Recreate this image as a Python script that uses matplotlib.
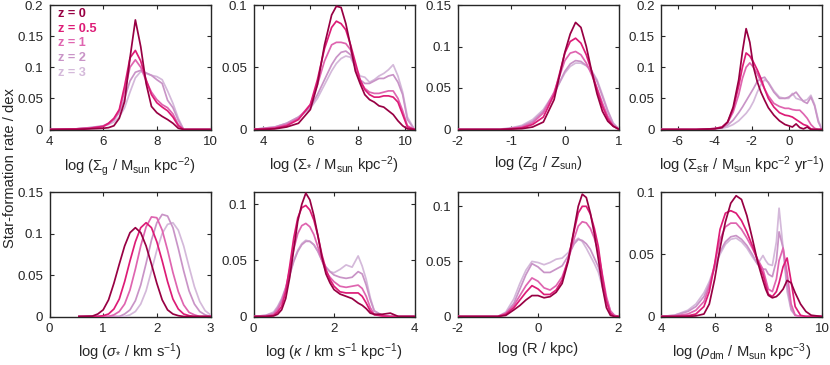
"""Star-formation rate per dex vs local properties at z = 0 ... 3 (8 small multiples)."""

import matplotlib
matplotlib.use("Agg")
import matplotlib.pyplot as plt
from matplotlib.ticker import FuncFormatter

plt.rcParams["font.family"] = ["Liberation Sans", "DejaVu Sans"]
plt.rcParams["mathtext.fontset"] = "custom"
plt.rcParams["mathtext.rm"] = "Liberation Sans"
plt.rcParams["mathtext.it"] = "Liberation Sans:italic"
plt.rcParams["mathtext.bf"] = "Liberation Sans:bold"

# ---- data ----
redshifts = ["z = 0", "z = 0.5", "z = 1", "z = 2", "z = 3"]
colors = ["#980043", "#dd1c77", "#df65b0", "#c994c7", "#d4b9da"]

# log Sigma_gas
sg_x = [4.0, 5.0, 5.5, 6.0, 6.2, 6.4, 6.6, 6.8, 7.0, 7.2, 7.4, 7.6, 7.8, 8.0, 8.2, 8.4, 8.6, 8.8, 9.0, 10.0]
sg_y = [
    [0, 0, 0.001, 0.002, 0.003, 0.006, 0.018, 0.045, 0.115, 0.176, 0.133, 0.074, 0.037, 0.027, 0.021, 0.016, 0.010, 0.002, 0, 0],
    [0, 0.001, 0.002, 0.005, 0.010, 0.018, 0.032, 0.070, 0.115, 0.127, 0.110, 0.080, 0.056, 0.043, 0.036, 0.030, 0.020, 0.006, 0, 0],
    [0, 0.001, 0.002, 0.005, 0.009, 0.016, 0.030, 0.062, 0.100, 0.112, 0.100, 0.078, 0.060, 0.048, 0.040, 0.035, 0.025, 0.008, 0, 0],
    [0, 0.001, 0.003, 0.006, 0.010, 0.016, 0.027, 0.050, 0.078, 0.092, 0.095, 0.091, 0.087, 0.080, 0.074, 0.047, 0.035, 0.015, 0, 0],
    [0, 0.001, 0.003, 0.005, 0.008, 0.012, 0.020, 0.035, 0.060, 0.083, 0.093, 0.090, 0.087, 0.085, 0.080, 0.062, 0.042, 0.018, 0, 0],
]

# log Sigma_star
ss_x = [3.6, 4.0, 4.5, 5.0, 5.5, 6.0, 6.3, 6.6, 6.9, 7.1, 7.3, 7.5, 7.7, 7.9, 8.1, 8.3, 8.5, 8.7, 8.9, 9.1, 9.3, 9.5, 9.7, 9.9, 10.1, 10.4]
ss_y = [
    [0, 0, 0.0005, 0.002, 0.005, 0.016, 0.036, 0.068, 0.092, 0.099, 0.098, 0.085, 0.067, 0.047, 0.037, 0.028, 0.024, 0.022, 0.019, 0.018, 0.015, 0.012, 0.007, 0.003, 0.0005, 0],
    [0, 0.0005, 0.001, 0.003, 0.008, 0.020, 0.040, 0.065, 0.082, 0.087, 0.085, 0.080, 0.068, 0.054, 0.040, 0.032, 0.028, 0.026, 0.026, 0.027, 0.027, 0.026, 0.022, 0.012, 0.002, 0],
    [0, 0.0005, 0.0015, 0.004, 0.009, 0.020, 0.036, 0.055, 0.068, 0.070, 0.070, 0.069, 0.064, 0.050, 0.039, 0.033, 0.030, 0.029, 0.029, 0.030, 0.031, 0.031, 0.025, 0.015, 0.003, 0],
    [0, 0.001, 0.002, 0.005, 0.010, 0.018, 0.028, 0.040, 0.052, 0.058, 0.062, 0.063, 0.060, 0.050, 0.040, 0.037, 0.037, 0.039, 0.041, 0.041, 0.043, 0.044, 0.038, 0.028, 0.008, 0],
    [0, 0.001, 0.002, 0.005, 0.010, 0.017, 0.025, 0.036, 0.047, 0.053, 0.057, 0.059, 0.058, 0.050, 0.043, 0.042, 0.038, 0.040, 0.043, 0.045, 0.048, 0.052, 0.043, 0.030, 0.010, 0],
]

# log Z_gas
zg_x = [-2.0, -1.2, -1.0, -0.8, -0.6, -0.4, -0.2, 0.0, 0.1, 0.2, 0.3, 0.4, 0.5, 0.6, 0.7, 0.8, 0.9, 1.0]
zg_y = [
    [0, 0, 0.0005, 0.001, 0.003, 0.009, 0.036, 0.093, 0.115, 0.129, 0.123, 0.100, 0.070, 0.043, 0.022, 0.010, 0.004, 0.0005],
    [0, 0, 0.001, 0.002, 0.006, 0.015, 0.042, 0.092, 0.106, 0.110, 0.104, 0.090, 0.070, 0.048, 0.028, 0.013, 0.004, 0.0005],
    [0, 0, 0.001, 0.003, 0.008, 0.020, 0.045, 0.083, 0.092, 0.094, 0.090, 0.080, 0.066, 0.050, 0.032, 0.016, 0.005, 0.001],
    [0, 0, 0.0015, 0.004, 0.010, 0.022, 0.043, 0.070, 0.079, 0.083, 0.082, 0.077, 0.070, 0.058, 0.040, 0.022, 0.007, 0.001],
    [0, 0.0005, 0.002, 0.005, 0.012, 0.024, 0.044, 0.068, 0.076, 0.080, 0.080, 0.077, 0.071, 0.060, 0.042, 0.023, 0.008, 0.001],
]

# log Sigma_sfr
sf_x = [-7.0, -5.0, -4.5, -4.0, -3.6, -3.3, -3.0, -2.7, -2.5, -2.3, -2.1, -1.9, -1.7, -1.5, -1.3, -1.1, -0.8, -0.5, -0.2, 0.0, 0.2, 0.4, 0.6, 0.8, 1.0, 1.2, 1.4, 1.6, 1.8]
sf_y = [
    [0, 0, 0.0005, 0.001, 0.003, 0.012, 0.036, 0.080, 0.125, 0.162, 0.140, 0.100, 0.077, 0.060, 0.047, 0.035, 0.023, 0.014, 0.008, 0.006, 0.004, 0.009, 0.003, 0.001, 0.004, 0, 0, 0, 0],
    [0, 0, 0.0005, 0.0015, 0.004, 0.012, 0.033, 0.070, 0.100, 0.123, 0.118, 0.108, 0.096, 0.082, 0.065, 0.050, 0.036, 0.027, 0.023, 0.022, 0.020, 0.016, 0.012, 0.008, 0.006, 0.001, 0, 0, 0],
    [0, 0, 0.0005, 0.0015, 0.004, 0.011, 0.028, 0.056, 0.082, 0.100, 0.107, 0.100, 0.090, 0.077, 0.065, 0.054, 0.042, 0.037, 0.034, 0.034, 0.032, 0.031, 0.031, 0.025, 0.018, 0.008, 0.002, 0, 0],
    [0, 0, 0.0005, 0.0015, 0.003, 0.007, 0.015, 0.027, 0.036, 0.046, 0.056, 0.066, 0.077, 0.082, 0.084, 0.075, 0.060, 0.050, 0.050, 0.052, 0.056, 0.060, 0.052, 0.045, 0.042, 0.052, 0.038, 0.012, 0],
    [0, 0, 0.0005, 0.001, 0.002, 0.004, 0.008, 0.014, 0.020, 0.026, 0.034, 0.045, 0.060, 0.072, 0.080, 0.076, 0.062, 0.052, 0.050, 0.050, 0.058, 0.050, 0.048, 0.046, 0.048, 0.055, 0.040, 0.015, 0],
]

# log sigma_star (velocity dispersion)
vd_x = [0.55, 0.8, 0.9, 1.0, 1.1, 1.2, 1.3, 1.4, 1.5, 1.6, 1.7, 1.8, 1.9, 2.0, 2.1, 2.2, 2.3, 2.4, 2.5, 2.6, 2.7, 2.8, 2.9, 3.0]
vd_y = [
    [0, 0.0005, 0.003, 0.008, 0.020, 0.040, 0.063, 0.085, 0.101, 0.107, 0.101, 0.085, 0.063, 0.040, 0.020, 0.008, 0.003, 0.001, 0, 0, 0, 0, 0, 0],
    [0, 0, 0, 0.001, 0.003, 0.009, 0.021, 0.042, 0.067, 0.090, 0.107, 0.113, 0.107, 0.090, 0.067, 0.042, 0.021, 0.009, 0.003, 0.001, 0, 0, 0, 0],
    [0, 0, 0, 0, 0, 0.002, 0.006, 0.015, 0.032, 0.057, 0.085, 0.108, 0.120, 0.119, 0.104, 0.080, 0.053, 0.030, 0.014, 0.005, 0.002, 0, 0, 0],
    [0, 0, 0, 0, 0, 0, 0, 0.003, 0.008, 0.019, 0.038, 0.064, 0.092, 0.113, 0.123, 0.121, 0.107, 0.082, 0.055, 0.031, 0.015, 0.006, 0.002, 0],
    [0, 0, 0, 0, 0, 0, 0, 0, 0.002, 0.006, 0.015, 0.031, 0.055, 0.080, 0.100, 0.111, 0.113, 0.104, 0.085, 0.060, 0.036, 0.018, 0.007, 0.002],
]

# log kappa
kp_x = [0.0, 0.3, 0.5, 0.6, 0.7, 0.8, 0.9, 1.0, 1.1, 1.2, 1.3, 1.4, 1.5, 1.6, 1.7, 1.8, 1.9, 2.0, 2.15, 2.3, 2.45, 2.6, 2.7, 2.8, 2.9, 3.0, 3.2, 3.4, 3.6, 4.0]
kp_y = [
    [0, 0, 0.0005, 0.002, 0.006, 0.016, 0.035, 0.060, 0.085, 0.100, 0.110, 0.104, 0.090, 0.072, 0.053, 0.038, 0.030, 0.024, 0.020, 0.018, 0.016, 0.012, 0.010, 0.007, 0.003, 0.002, 0.002, 0.003, 0, 0],
    [0, 0, 0.001, 0.004, 0.009, 0.022, 0.045, 0.070, 0.088, 0.097, 0.099, 0.095, 0.086, 0.072, 0.055, 0.042, 0.033, 0.027, 0.022, 0.021, 0.021, 0.021, 0.018, 0.012, 0.005, 0.0015, 0.0005, 0, 0, 0],
    [0, 0.0005, 0.002, 0.006, 0.013, 0.025, 0.042, 0.060, 0.074, 0.081, 0.083, 0.080, 0.073, 0.062, 0.050, 0.040, 0.035, 0.031, 0.027, 0.026, 0.027, 0.028, 0.025, 0.018, 0.008, 0.002, 0.0005, 0, 0, 0],
    [0, 0.001, 0.003, 0.008, 0.015, 0.025, 0.037, 0.049, 0.058, 0.064, 0.067, 0.067, 0.064, 0.058, 0.050, 0.044, 0.040, 0.037, 0.035, 0.034, 0.035, 0.040, 0.038, 0.028, 0.015, 0.005, 0.001, 0, 0, 0],
    [0, 0.001, 0.004, 0.009, 0.016, 0.026, 0.038, 0.050, 0.059, 0.065, 0.068, 0.067, 0.064, 0.058, 0.050, 0.044, 0.040, 0.039, 0.042, 0.046, 0.044, 0.054, 0.045, 0.033, 0.017, 0.005, 0.001, 0, 0, 0],
]

# log R
rr_x = [-2.0, -1.0, -0.8, -0.6, -0.45, -0.3, -0.15, 0.0, 0.15, 0.3, 0.45, 0.6, 0.75, 0.9, 1.0, 1.1, 1.2, 1.3, 1.4, 1.5, 1.6, 1.7, 1.8, 1.9, 2.0]
rr_y = [
    [0, 0, 0.001, 0.006, 0.010, 0.015, 0.019, 0.019, 0.017, 0.018, 0.022, 0.030, 0.050, 0.080, 0.100, 0.111, 0.108, 0.094, 0.075, 0.052, 0.027, 0.008, 0.001, 0, 0],
    [0, 0, 0.002, 0.008, 0.015, 0.022, 0.028, 0.025, 0.020, 0.020, 0.024, 0.033, 0.052, 0.078, 0.094, 0.100, 0.100, 0.093, 0.080, 0.063, 0.036, 0.014, 0.003, 0, 0],
    [0, 0, 0.003, 0.010, 0.019, 0.028, 0.035, 0.032, 0.026, 0.024, 0.028, 0.036, 0.051, 0.071, 0.082, 0.086, 0.085, 0.080, 0.071, 0.058, 0.038, 0.018, 0.005, 0.001, 0],
    [0, 0, 0.003, 0.012, 0.025, 0.038, 0.048, 0.045, 0.040, 0.040, 0.043, 0.046, 0.055, 0.066, 0.070, 0.069, 0.066, 0.061, 0.053, 0.045, 0.031, 0.016, 0.005, 0.001, 0],
    [0, 0, 0.004, 0.016, 0.030, 0.042, 0.050, 0.049, 0.047, 0.049, 0.052, 0.053, 0.058, 0.068, 0.071, 0.068, 0.062, 0.055, 0.048, 0.040, 0.027, 0.012, 0.004, 0, 0],
]

# log rho_dm
dm_x = [4.0, 4.5, 5.0, 5.3, 5.6, 5.8, 6.0, 6.2, 6.4, 6.6, 6.8, 7.0, 7.2, 7.4, 7.6, 7.8, 7.9, 8.0, 8.15, 8.3, 8.4, 8.55, 8.7, 8.85, 9.0, 9.2, 9.4, 9.6, 10.0]
dm_y = [
    [0, 0, 0, 0.0005, 0.002, 0.010, 0.030, 0.055, 0.076, 0.091, 0.097, 0.094, 0.081, 0.063, 0.044, 0.029, 0.022, 0.017, 0.015, 0.016, 0.018, 0.022, 0.029, 0.027, 0.019, 0.010, 0.004, 0.001, 0],
    [0, 0, 0.0005, 0.002, 0.008, 0.020, 0.042, 0.070, 0.083, 0.085, 0.083, 0.077, 0.068, 0.057, 0.045, 0.034, 0.026, 0.018, 0.016, 0.020, 0.027, 0.040, 0.047, 0.028, 0.008, 0.001, 0, 0, 0],
    [0, 0.0005, 0.002, 0.005, 0.012, 0.024, 0.042, 0.062, 0.072, 0.075, 0.075, 0.070, 0.063, 0.055, 0.046, 0.038, 0.030, 0.022, 0.020, 0.030, 0.045, 0.055, 0.035, 0.010, 0.001, 0, 0, 0, 0],
    [0, 0.001, 0.004, 0.008, 0.016, 0.026, 0.039, 0.052, 0.060, 0.064, 0.065, 0.062, 0.057, 0.050, 0.042, 0.038, 0.038, 0.034, 0.032, 0.045, 0.068, 0.055, 0.025, 0.006, 0.001, 0, 0, 0, 0],
    [0, 0.001, 0.005, 0.010, 0.019, 0.028, 0.040, 0.050, 0.058, 0.062, 0.063, 0.060, 0.055, 0.048, 0.042, 0.049, 0.045, 0.042, 0.041, 0.060, 0.087, 0.055, 0.020, 0.005, 0.001, 0, 0, 0, 0],
]

panels = [
    (sg_x, sg_y, (4, 10), [4, 6, 8, 10], (0, 0.2), [0, 0.05, 0.1, 0.15, 0.2],
     r"log ($\Sigma_{\rm g}$ / M$_{\rm sun}$ kpc$^{-2}$)"),
    (ss_x, ss_y, (3.6, 10.4), [4, 6, 8, 10], (0, 0.1), [0, 0.05, 0.1],
     r"log ($\Sigma_{*}$ / M$_{\rm sun}$ kpc$^{-2}$)"),
    (zg_x, zg_y, (-2, 1), [-2, -1, 0, 1], (0, 0.15), [0, 0.05, 0.1, 0.15],
     r"log (Z$_{\rm g}$ / Z$_{\rm sun}$)"),
    (sf_x, sf_y, (-6.9, 1.8), [-6, -4, -2, 0], (0, 0.2), [0, 0.05, 0.1, 0.15, 0.2],
     r"log ($\Sigma_{\rm sfr}$ / M$_{\rm sun}$ kpc$^{-2}$ yr$^{-1}$)"),
    (vd_x, vd_y, (0, 3), [0, 1, 2, 3], (0, 0.15), [0, 0.05, 0.1, 0.15],
     r"log ($\sigma_{*}$ / km s$^{-1}$)"),
    (kp_x, kp_y, (0, 4), [0, 2, 4], (0, 0.111), [0, 0.05, 0.1],
     r"log ($\kappa$ / km s$^{-1}$ kpc$^{-1}$)"),
    (rr_x, rr_y, (-2, 2), [-2, 0, 2], (0, 0.113), [0, 0.05, 0.1],
     r"log (R / kpc)"),
    (dm_x, dm_y, (4, 10), [4, 6, 8, 10], (0, 0.1), [0, 0.05, 0.1],
     r"log ($\rho_{\rm dm}$ / M$_{\rm sun}$ kpc$^{-3}$)"),
]


def fmt(v, pos):
    return "%g" % v


fig = plt.figure(figsize=(8.3, 3.65), dpi=100)
lefts = [49.5, 253.5, 457.5, 661]
tops = [5, 192]
W, H = 830.0, 365.0
aw, ah = 161.0, 124.5

for i, (x, ys, xl, xt, yl, yt, lab) in enumerate(panels):
    r, c = divmod(i, 4)
    ax = fig.add_axes([lefts[c] / W, 1 - (tops[r] + ah) / H, aw / W, ah / H])
    for k in range(4, -1, -1):
        ax.plot(x, ys[k], color=colors[k], lw=1.25, zorder=3 + (4 - k))
    ax.set_xlim(*xl)
    ax.set_ylim(*yl)
    ax.set_xticks(xt)
    ax.set_yticks(yt)
    ax.yaxis.set_major_formatter(FuncFormatter(fmt))
    ax.xaxis.set_major_formatter(FuncFormatter(fmt))
    ax.tick_params(direction="in", length=3, width=0.8, top=True, right=True,
                   labelsize=9.6, colors="#262626", pad=4.5)
    for s in ax.spines.values():
        s.set_linewidth(1.0)
        s.set_color("#262626")
    ax.set_xlabel(lab, fontsize=10.6, color="#262626", labelpad=5)

    if i == 0:
        for k, zname in enumerate(redshifts):
            ax.text(0.055, 0.925 - k * 0.117, zname, transform=ax.transAxes,
                    color=colors[k], fontsize=9.2, fontweight="bold",
                    va="center", ha="left")

fig.text(10 / W, 1 - 168 / H, "Star-formation rate / dex", rotation=90,
         va="center", ha="center", fontsize=10.6, color="#262626")

fig.savefig("out.png", dpi=100, facecolor="white")
